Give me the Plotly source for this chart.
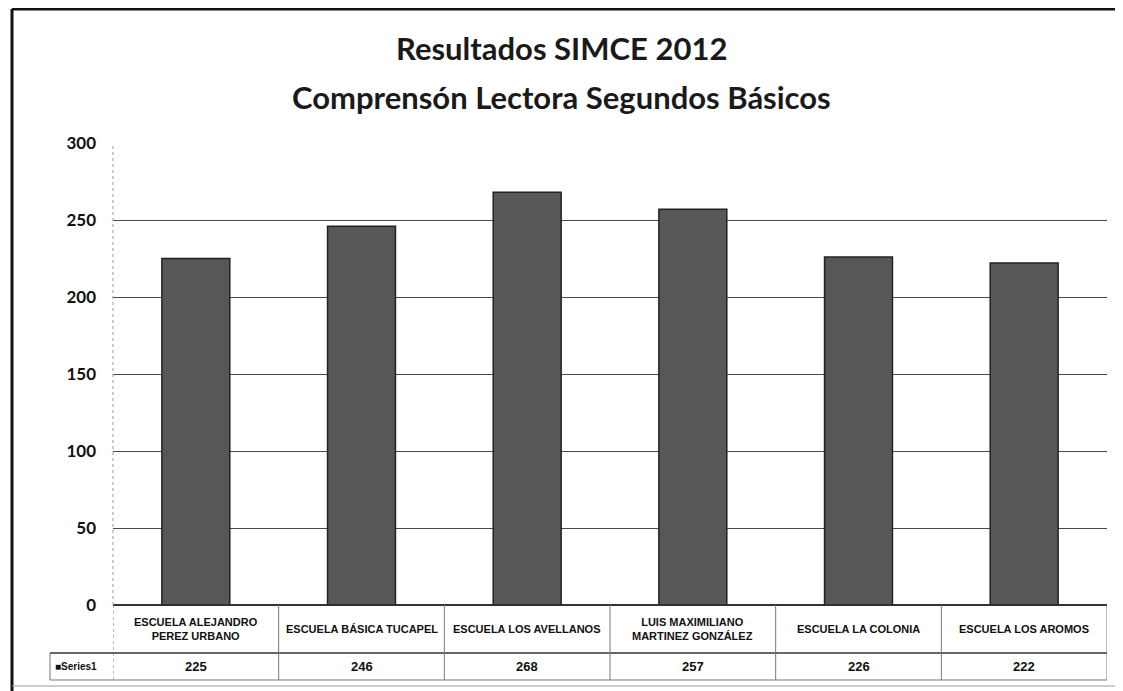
import plotly.graph_objects as go

# data
schools = [
    "ESCUELA ALEJANDRO<br>PEREZ URBANO",
    "ESCUELA BÁSICA TUCAPEL",
    "ESCUELA LOS AVELLANOS",
    "LUIS MAXIMILIANO<br>MARTINEZ GONZÁLEZ",
    "ESCUELA LA COLONIA",
    "ESCUELA LOS AROMOS",
]
scores = [225, 246, 268, 257, 226, 222]
series_name = "Series1"
y_ticks = [0, 50, 100, 150, 200, 250, 300]
title_lines = ["Resultados SIMCE 2012", "Comprensón Lectora Segundos Básicos"]

# page body has an 8px margin, so the figure is drawn 8px smaller and shifted
OFF = 8
W, H = 1123 - OFF, 691 - OFF
ML, MR, MT, MB = 113 - OFF, 16, 143 - OFF, 86
pw, ph = W - ML - MR, H - MT - MB


def px_x(x):
    # reference screen x -> paper x
    return (x - OFF - ML) / pw


def px_y(y):
    # reference screen y -> paper y
    return (H - MB - (y - OFF)) / ph


bar_color = "#575757"
grid_color = "#4a4a4a"
label_font = dict(family="Liberation Sans Narrow, Arial Narrow, sans-serif", size=11, color="#111")
title_font = dict(family="Lato, Open Sans, sans-serif", size=31, color="#1a1a1a")

fig = go.Figure()
fig.add_trace(go.Bar(
    x=list(range(len(schools))),
    y=scores,
    name=series_name,
    marker=dict(color=bar_color, line=dict(color="#222", width=1.5)),
    width=0.41,
    showlegend=False,
))

n = len(schools)
row1 = px_y(653)
row2 = px_y(680)
shapes = []
# table rows
shapes.append(dict(type="line", xref="paper", yref="paper", x0=px_x(50), x1=1, y0=row1, y1=row1,
                   line=dict(color="#333", width=1.5)))
shapes.append(dict(type="line", xref="paper", yref="paper", x0=px_x(50), x1=1, y0=row2, y1=row2,
                   line=dict(color="#777", width=1.2)))
shapes.append(dict(type="line", xref="paper", yref="paper", x0=px_x(50), x1=px_x(50), y0=row1, y1=row2,
                   line=dict(color="#777", width=1)))
# column dividers
for i in range(n + 1):
    shapes.append(dict(type="line", xref="x", yref="paper", x0=i - 0.5, x1=i - 0.5, y0=0, y1=row2,
                       line=dict(color="#777", width=1, dash="dot" if i == 0 else "solid")))
# left axis (dotted)
shapes.append(dict(type="line", xref="paper", yref="paper", x0=0, x1=0, y0=0, y1=1,
                   line=dict(color="#999", width=1, dash="dot")))
# outer frame
shapes.append(dict(type="line", xref="paper", yref="paper", x0=px_x(12), x1=px_x(1123), y0=px_y(9), y1=px_y(9),
                   line=dict(color="#111", width=3)))
shapes.append(dict(type="line", xref="paper", yref="paper", x0=px_x(12), x1=px_x(12), y0=px_y(9), y1=px_y(691),
                   line=dict(color="#111", width=3)))
shapes.append(dict(type="line", xref="paper", yref="paper", x0=px_x(12), x1=px_x(1123), y0=px_y(686), y1=px_y(686),
                   line=dict(color="#999", width=1)))

annotations = []
for i, (s, v) in enumerate(zip(schools, scores)):
    annotations.append(dict(x=i, y=(0 + row1) / 2, xref="x", yref="paper", text=f"<b>{s}</b>",
                            showarrow=False, font=label_font, yanchor="middle"))
    annotations.append(dict(x=i, y=(row1 + row2) / 2, xref="x", yref="paper", text=f"<b>{v}</b>",
                            showarrow=False, font=dict(label_font, size=13), yanchor="middle"))
annotations.append(dict(x=px_x(53), y=(row1 + row2) / 2, xref="paper", yref="paper",
                        text=f"<b>■{series_name}</b>", showarrow=False, xanchor="left", yanchor="middle",
                        font=dict(label_font, size=10)))
# two-line title, centred on the page
for line, ty in zip(title_lines, [48, 97]):
    annotations.append(dict(x=px_x(561), y=px_y(ty), xref="paper", yref="paper", text=f"<b>{line}</b>",
                            showarrow=False, xanchor="center", yanchor="middle", font=title_font))

fig.update_layout(
    width=W, height=H,
    margin=dict(l=ML, r=MR, t=MT, b=MB),
    paper_bgcolor="white", plot_bgcolor="white",
    xaxis=dict(showticklabels=False, showgrid=False, zeroline=False, showline=False,
               range=[-0.5, n - 0.5], fixedrange=True),
    yaxis=dict(range=[0, 300], tickvals=y_ticks, showgrid=True, gridcolor=grid_color, gridwidth=1.4,
               zeroline=True, zerolinecolor="#333", zerolinewidth=1.5, showline=False,
               ticks="", ticklabelstandoff=16,
               tickfont=dict(family="Lato, Open Sans, sans-serif", size=17, color="#111", weight="bold")),
    shapes=shapes,
    annotations=annotations,
)

fig.write_html("out.html")
